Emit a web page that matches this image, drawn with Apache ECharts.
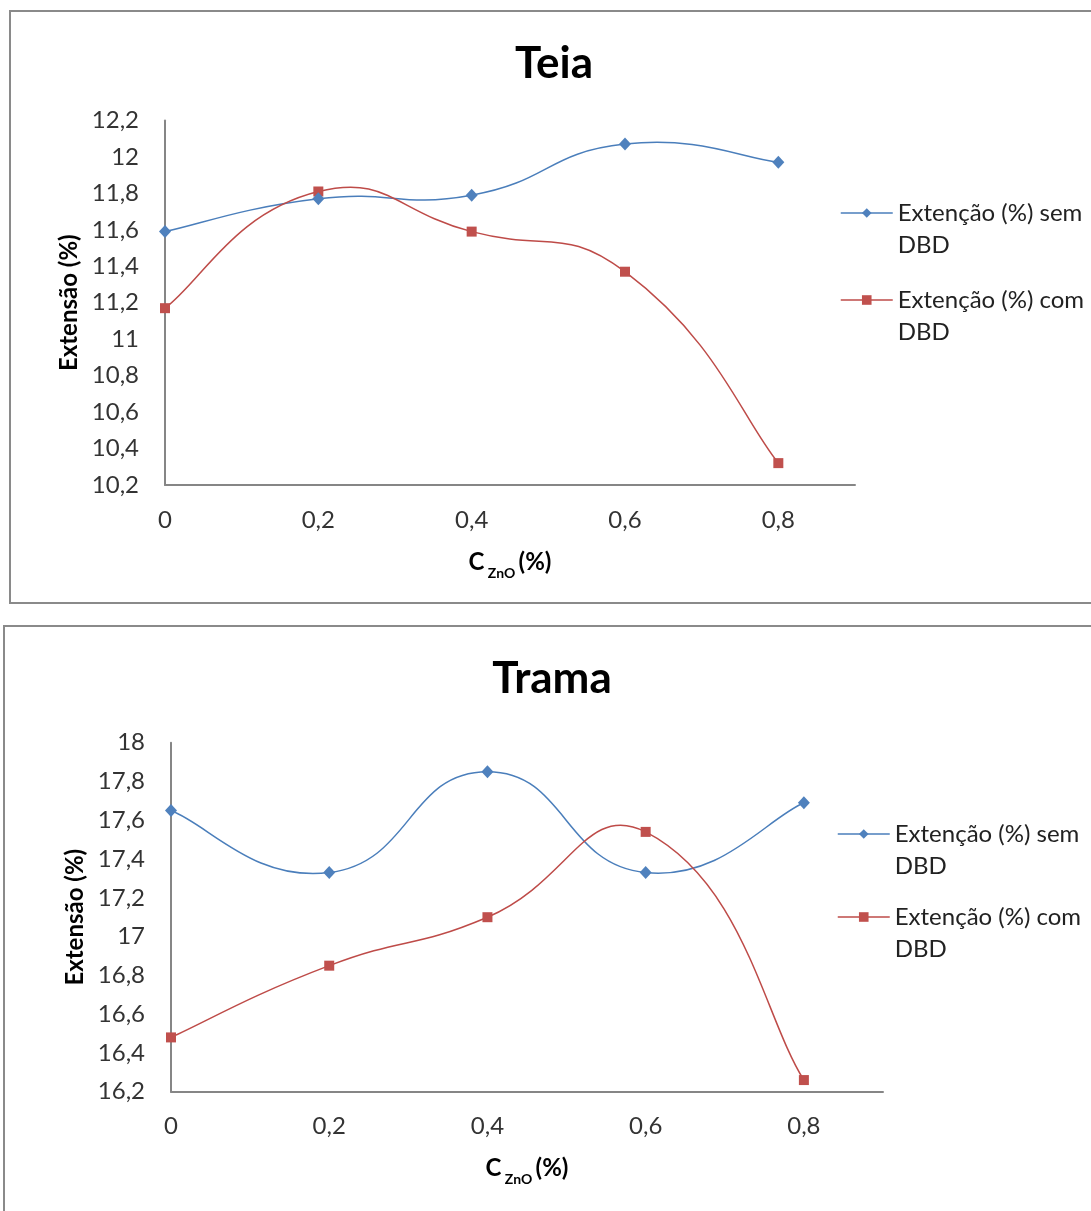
<!DOCTYPE html>
<html>
<head>
<meta charset="utf-8">
<script src="https://cdn.jsdelivr.net/npm/echarts@6/dist/echarts.min.js"></script>
<style>
  html, body { margin: 0; padding: 0; background: #ffffff; overflow: hidden; }
  #chart { width: 1091px; height: 1211px; }
</style>
</head>
<body>
<div id="chart"></div>
<script>
// ZnO concentration (%) on the x axis
const concentrations = [0, 0.2, 0.4, 0.6, 0.8];

// Elongation (%) – warp ("Teia")
const teiaSemDBD = [11.59, 11.77, 11.79, 12.07, 11.97];
const teiaComDBD = [11.17, 11.81, 11.59, 11.37, 10.32];

// Elongation (%) – weft ("Trama")
const tramaSemDBD = [17.65, 17.33, 17.85, 17.33, 17.69];
const tramaComDBD = [16.48, 16.85, 17.10, 17.54, 16.26];

const chartTitles = ['Teia', 'Trama'];
const seriesNames = ['Extenção (%) sem DBD', 'Extenção (%) com DBD'];
const yAxisName = 'Extensão (%)';

const FONT = 'Lato, "Noto Sans", sans-serif';
const BLUE = '#4A7EBB';
const BLUE_MARK = '#4F81BD';
const RED = '#BE4B48';
const RED_MARK = '#C0504D';
const AXIS = '#868686';
const SMOOTH = 0.5;   // tangent factor of the smoothed lines (segment-length weighted)

const commaFmt = v => String(Number(v.toFixed(1))).replace('.', ',');

const pairs = arr => concentrations.map((x, i) => [x, arr[i]]);

function xAxisFor(gridIndex) {
  return {
    type: 'value', gridIndex, min: 0, max: 0.9, interval: 0.2,
    name: '{c|C} {s|ZnO} {c|(%)}',
    nameLocation: 'middle', nameGap: 65,
    nameTextStyle: {
      rich: {
        c: { fontFamily: FONT, fontWeight: 'bold', fontSize: 24, color: '#000', lineHeight: 30, verticalAlign: 'top' },
        s: { fontFamily: FONT, fontWeight: 'bold', fontSize: 14, color: '#000', lineHeight: 15, padding: [16, 0, 0, 0], verticalAlign: 'top' }
      }
    },
    axisLine: { show: true, lineStyle: { color: AXIS, width: 2 } },
    axisTick: { show: false },
    splitLine: { show: false },
    axisLabel: {
      showMaxLabel: false, margin: 23, formatter: commaFmt,
      fontFamily: FONT, fontSize: 24, color: '#333'
    }
  };
}

function yAxisFor(gridIndex, min, max, gap) {
  return {
    type: 'value', gridIndex, min, max, interval: 0.2,
    name: yAxisName, nameLocation: 'middle', nameGap: gap, nameRotate: 90,
    nameTextStyle: { fontFamily: FONT, fontWeight: 'bold', fontSize: 24, color: '#000' },
    axisLine: { show: true, lineStyle: { color: AXIS, width: 2 } },
    axisTick: { show: false },
    splitLine: { show: false },
    axisLabel: { margin: 26, formatter: commaFmt, fontFamily: FONT, fontSize: 24, color: '#333' }
  };
}

// Markers (and legend entry) for one data set
function markerSeries(name, data, idx, blue) {
  return {
    type: 'line', name, xAxisIndex: idx, yAxisIndex: idx,
    data: pairs(data),
    symbol: blue ? 'diamond' : 'rect',
    symbolSize: blue ? [12, 13] : 10,
    lineStyle: { color: blue ? BLUE : RED, width: 1.5, opacity: 0 },
    itemStyle: { color: blue ? BLUE_MARK : RED_MARK },
    z: blue ? 5 : 4
  };
}

const dist = (a, b) => Math.hypot(b[0] - a[0], b[1] - a[1]);

// Tangent weight at an inner point: share of the adjacent segment in the two-segment span.
// At an end point there is no outer neighbour, so the weight falls back to half.
function weight(dInner, dOuter, hasOuter) {
  return SMOOTH * (hasOuter ? dInner / (dInner + dOuter) : 0.5);
}

// Smoothed curve through the same points, built as cubic Bézier segments
// from pixel coordinates given by the axes (api.coord); tangents are not clamped.
function curveSeries(data, idx, color) {
  const pts = pairs(data);
  return {
    type: 'custom', xAxisIndex: idx, yAxisIndex: idx,
    data: pts, z: 3, silent: true,
    renderItem(params, api) {
      if (params.dataIndex !== 0) return null;
      const p = pts.map(d => api.coord(d));
      const n = p.length;
      const children = [];
      for (let i = 0; i < n - 1; i++) {
        const hasPrev = i > 0, hasNext = i + 2 < n;
        const p0 = hasPrev ? p[i - 1] : p[i];
        const p1 = p[i];
        const p2 = p[i + 1];
        const p3 = hasNext ? p[i + 2] : p[i + 1];
        const d12 = dist(p1, p2);
        const r1 = weight(d12, dist(p0, p1), hasPrev);
        const r2 = weight(d12, dist(p2, p3), hasNext);
        children.push({
          type: 'bezierCurve',
          shape: {
            x1: p1[0], y1: p1[1],
            cpx1: p1[0] + r1 * (p2[0] - p0[0]),
            cpy1: p1[1] + r1 * (p2[1] - p0[1]),
            cpx2: p2[0] - r2 * (p3[0] - p1[0]),
            cpy2: p2[1] - r2 * (p3[1] - p1[1]),
            x2: p2[0], y2: p2[1]
          },
          style: { stroke: color, lineWidth: 1.5, fill: null }
        });
      }
      return { type: 'group', children };
    }
  };
}

// Each legend entry: empty first line so the marker sits on the text's first line
function legendAt(name, left, top, color) {
  return {
    data: [name], left, top, padding: 0, orient: 'vertical',
    itemWidth: 52, itemHeight: 12, selectedMode: false,
    lineStyle: { color, width: 1.5, opacity: 1 },
    formatter: n => ' \n' + n.replace(' DBD', '\nDBD'),
    textStyle: { fontFamily: FONT, fontSize: 24, color: '#222', lineHeight: 32 }
  };
}

const chart = echarts.init(document.getElementById('chart'), null, { renderer: 'canvas' });

chart.setOption({
  animation: false,
  backgroundColor: '#ffffff',
  title: [
    { text: chartTitles[0], left: 549, top: 37, textAlign: 'center',
      textStyle: { fontFamily: FONT, fontWeight: 'bold', fontSize: 44, color: '#000' } },
    { text: chartTitles[1], left: 547, top: 652, textAlign: 'center',
      textStyle: { fontFamily: FONT, fontWeight: 'bold', fontSize: 44, color: '#000' } }
  ],
  graphic: [
    { type: 'rect', shape: { x: 10, y: 11, width: 1200, height: 592 },
      style: { fill: 'none', stroke: '#8a8a8a', lineWidth: 2 }, silent: true },
    { type: 'rect', shape: { x: 4, y: 626, width: 1200, height: 700 },
      style: { fill: 'none', stroke: '#8a8a8a', lineWidth: 2 }, silent: true }
  ],
  legend: [
    legendAt(seriesNames[0], 840, 165, BLUE),
    legendAt(seriesNames[1], 840, 252, RED),
    legendAt(seriesNames[0], 837, 786, BLUE),
    legendAt(seriesNames[1], 837, 869, RED)
  ],
  grid: [
    { left: 165, top: 120.4, width: 690, height: 364.6 },
    { left: 171, top: 742.7, width: 712, height: 349 }
  ],
  xAxis: [xAxisFor(0), xAxisFor(1)],
  yAxis: [yAxisFor(0, 10.2, 12.2, 82), yAxisFor(1, 16.2, 18, 75)],
  series: [
    markerSeries(seriesNames[0], teiaSemDBD, 0, true),
    markerSeries(seriesNames[1], teiaComDBD, 0, false),
    markerSeries(seriesNames[0], tramaSemDBD, 1, true),
    markerSeries(seriesNames[1], tramaComDBD, 1, false),
    curveSeries(teiaSemDBD, 0, BLUE),
    curveSeries(teiaComDBD, 0, RED),
    curveSeries(tramaSemDBD, 1, BLUE),
    curveSeries(tramaComDBD, 1, RED)
  ]
});
</script>
</body>
</html>
